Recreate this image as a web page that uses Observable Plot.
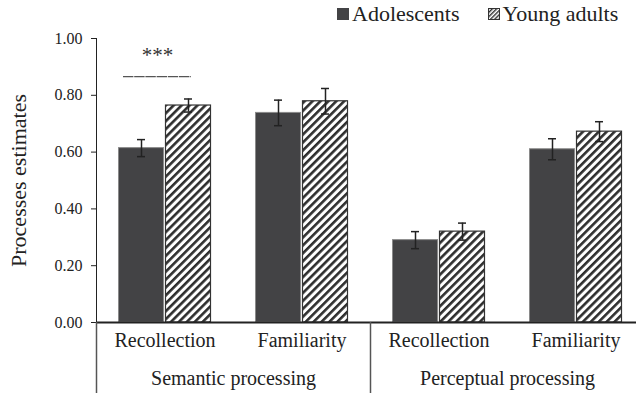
<!DOCTYPE html>
<html>
<head>
<meta charset="utf-8">
<script src="https://cdn.jsdelivr.net/npm/d3@7"></script>
<script src="https://cdn.jsdelivr.net/npm/@observablehq/plot@0.6"></script>
<style>
  html, body { margin: 0; padding: 0; background: #fff; }
  #wrap { position: relative; width: 636px; height: 395px; font-family: "Liberation Serif"; }
  #legend { position: absolute; top: 1px; left: 337px; display: flex; align-items: center; font-size: 22px; color: #222; white-space: nowrap; }
  #legend .item { display: flex; align-items: center; margin-right: 28px; }
  #legend svg { margin-right: 3px; }
</style>
</head>
<body>
<div id="wrap">
  <div id="legend"></div>
</div>
<script>
const categories = ["Recollection", "Familiarity", "Recollection", "Familiarity"];
const processing = ["Semantic processing", "Semantic processing", "Perceptual processing", "Perceptual processing"];
const groups = ["Semantic processing", "Perceptual processing"];
const series = ["Adolescents", "Young adults"];
const adolescents = [0.614, 0.738, 0.290, 0.610];
const adolescentsErr = [0.030, 0.045, 0.030, 0.037];
const youngAdults = [0.764, 0.779, 0.320, 0.672];
const youngAdultsErr = [0.023, 0.045, 0.030, 0.035];
const yTicks = [0, 0.2, 0.4, 0.6, 0.8, 1.0];
const annotationStars = "***";
const annotationLineY = 0.866;
const annotationStarsY = 0.94;

const keys = categories.map((c, i) => processing[i] + "|" + c);
const adolData = keys.map((k, i) => ({key: k, value: adolescents[i], err: adolescentsErr[i]}));
const yaData = keys.map((k, i) => ({key: k, value: youngAdults[i], err: youngAdultsErr[i]}));
const groupData = groups.map(g => ({group: g, key: keys.filter(k => k.startsWith(g))[1]}));

const xRange = [96, 644];
const band = (xRange[1] - xRange[0]) / keys.length; // 137
const barW = 45, gap = 2;
const outer = (band - 2 * barW - gap) / 2;
const adolOff = outer + barW / 2 - band / 2;
const yaOff = -adolOff;
const capW = 8;
const font = "Liberation Serif";

const chart = Plot.plot({
  width: 636,
  height: 395,
  marginLeft: 96,
  marginRight: 0,
  marginTop: 38,
  marginBottom: 73,
  style: {fontFamily: font, fontSize: "16px", color: "#222", background: "#fff", overflow: "visible"},
  x: {type: "band", domain: keys, range: xRange, padding: 0, axis: null},
  y: {domain: [0, 1], ticks: yTicks, tickFormat: d3.format(".2f"), tickSize: 5, tickPadding: 9, line: true, label: null},
  marks: [
    Plot.barY(adolData, {x: "key", y: "value", fill: "#434345", stroke: "#8a8a8a", strokeWidth: 1,
      insetLeft: outer, insetRight: band - outer - barW}),
    Plot.barY(yaData, {x: "key", y: "value", fill: "url(#hatch)", stroke: "#333", strokeWidth: 1.2,
      insetLeft: outer + barW + gap, insetRight: outer}),
    Plot.ruleX(adolData, {x: "key", dx: adolOff, y1: d => d.value - d.err, y2: d => d.value + d.err, stroke: "#222", strokeWidth: 1.5}),
    Plot.tickY(adolData, {x: "key", y: d => d.value - d.err, stroke: "#222", strokeWidth: 1.5,
      insetLeft: band / 2 + adolOff - capW / 2, insetRight: band / 2 - adolOff - capW / 2}),
    Plot.tickY(adolData, {x: "key", y: d => d.value + d.err, stroke: "#222", strokeWidth: 1.5,
      insetLeft: band / 2 + adolOff - capW / 2, insetRight: band / 2 - adolOff - capW / 2}),
    Plot.ruleX(yaData, {x: "key", dx: yaOff, y1: d => d.value - d.err, y2: d => d.value + d.err, stroke: "#222", strokeWidth: 1.5}),
    Plot.tickY(yaData, {x: "key", y: d => d.value - d.err, stroke: "#222", strokeWidth: 1.5,
      insetLeft: band / 2 + yaOff - capW / 2, insetRight: band / 2 - yaOff - capW / 2}),
    Plot.tickY(yaData, {x: "key", y: d => d.value + d.err, stroke: "#222", strokeWidth: 1.5,
      insetLeft: band / 2 + yaOff - capW / 2, insetRight: band / 2 - yaOff - capW / 2}),
    Plot.ruleY([0], {stroke: "#222", strokeWidth: 2}),
    // category separators below the axis
    Plot.ruleX([keys[0], keys[2]], {x: d => d, dx: -band / 2, y1: 0, y2: -0.25, stroke: "#555", strokeWidth: 1.5}),
    // category labels
    Plot.text(keys, {x: d => d, text: d => d.split("|")[1], frameAnchor: "bottom", dy: 24, fontSize: 20, fill: "#222"}),
    Plot.text(groupData, {x: "key", text: "group", dx: -band / 2, frameAnchor: "bottom", dy: 62, fontSize: 20, fill: "#222"}),
    // y axis label
    Plot.text(["Processes estimates"], {frameAnchor: "left", textAnchor: "middle", dx: -78, rotate: -90, fontSize: 22, fill: "#222"}),
    // significance annotation
    Plot.text([keys[0]], {x: d => d, y: annotationStarsY, dx: -7.5, text: () => annotationStars, fontSize: 21, fill: "#333"}),
    Plot.tickY([keys[0]], {x: d => d, y: annotationLineY, stroke: "#555", strokeWidth: 1.3,
      strokeDasharray: "10.4,0.8", insetLeft: 27, insetRight: 42})
  ]
});

const ns = "http://www.w3.org/2000/svg";
const defs = document.createElementNS(ns, "defs");
defs.innerHTML = `<pattern id="hatch" patternUnits="userSpaceOnUse" width="5.6" height="5.6" patternTransform="rotate(45)">
  <rect width="5.6" height="5.6" fill="#fff"></rect>
  <rect width="2.6" height="5.6" fill="#2e2e2e"></rect>
</pattern>
<pattern id="hatchSmall" patternUnits="userSpaceOnUse" width="3" height="3" patternTransform="rotate(45)">
  <rect width="3" height="3" fill="#fff"></rect>
  <rect width="1.4" height="3" fill="#2e2e2e"></rect>
</pattern>`;
chart.insertBefore(defs, chart.firstChild);
document.getElementById("wrap").appendChild(chart);

const legend = document.getElementById("legend");
const swatchFills = ["#434345", "url(#hatchSmall)"];
series.forEach((s, i) => {
  const item = document.createElement("div");
  item.className = "item";
  item.innerHTML = `<svg width="12" height="12"><rect x="0.5" y="0.5" width="11" height="11" fill="${swatchFills[i]}" stroke="${i ? '#333' : '#434345'}" stroke-width="1"></rect></svg><span>${s}</span>`;
  legend.appendChild(item);
});
</script>
</body>
</html>
